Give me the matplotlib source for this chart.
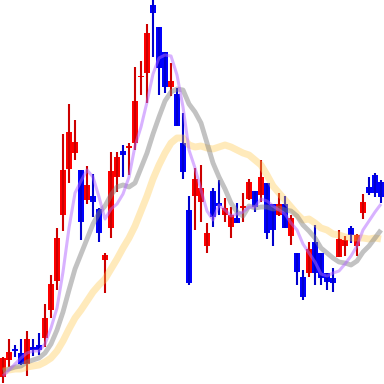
import numpy as np
import matplotlib
matplotlib.use('Agg')
import matplotlib.pyplot as plt

# candle values (arbitrary price units)
opens  = [7, 24, 35, 31, 20, 37, 39, 46, 74, 103, 169, 215, 231, 214, 184, 188, 175, 124, 156, 207,
          233, 236, 241, 307, 311, 379, 357, 332, 297, 290, 241, 174, 188, 182, 138, 193, 181, 169, 157, 166,
          176, 185, 193, 189, 201, 180, 169, 180, 148, 131, 107, 111, 142, 131, 111, 106, 127, 138, 156, 138,
          171, 197, 209, 202]
highs  = [27, 45, 39, 45, 53, 45, 51, 80, 109, 156, 250, 280, 264, 214, 218, 210, 176, 131, 232, 232,
          239, 241, 317, 323, 360, 384, 357, 332, 321, 296, 271, 188, 216, 219, 161, 196, 204, 186, 177, 181,
          191, 205, 193, 224, 201, 180, 191, 188, 169, 131, 114, 142, 159, 131, 111, 116, 154, 148, 158, 150,
          190, 207, 211, 204]
lows   = [1, 17, 27, 19, 8, 28, 29, 37, 66, 94, 153, 201, 224, 144, 180, 167, 142, 91, 146, 192,
          207, 209, 234, 289, 281, 327, 289, 291, 288, 258, 205, 99, 154, 162, 131, 157, 169, 162, 146, 161,
          162, 184, 172, 182, 145, 138, 168, 156, 139, 99, 84, 107, 99, 99, 94, 92, 127, 128, 141, 128,
          165, 189, 187, 181]
closes = [26, 32, 33, 20, 45, 34, 34, 66, 100, 146, 214, 252, 242, 162, 199, 182, 151, 129, 213, 227,
          229, 238, 283, 308, 351, 371, 316, 297, 303, 258, 212, 101, 205, 196, 151, 167, 178, 176, 169, 161,
          178, 202, 177, 207, 151, 154, 180, 156, 166, 112, 87, 135, 111, 106, 102, 101, 145, 144, 149, 149,
          182, 191, 191, 187]

# moving average lines as they appear in the picture
ma5  = [8, 14, 20, 26, 31, 33, 33, 40, 56, 76, 112, 156, 191, 203, 214, 207, 187, 165, 175, 180,
        190, 207, 238, 257, 282, 310, 326, 329, 328, 309, 277, 234, 216, 194, 173, 164, 179, 174, 168, 170,
        172, 177, 177, 185, 183, 178, 174, 170, 161, 154, 140, 131, 122, 110, 108, 111, 113, 120, 128, 138,
        154, 163, 172, 180]
ma10 = [13, 15, 17, 18, 22, 24, 26, 31, 40, 54, 72, 94, 115, 130, 145, 160, 171, 178, 189, 197,
        199, 197, 201, 216, 231, 250, 267, 283, 292, 295, 294, 280, 272, 261, 241, 221, 207, 195, 181, 172,
        168, 178, 176, 177, 177, 175, 176, 174, 173, 168, 159, 153, 146, 136, 131, 126, 122, 121, 119, 123,
        132, 138, 146, 154]
ma20 = [13, 14, 15, 15, 17, 18, 19, 22, 26, 33, 43, 55, 66, 74, 83, 92, 99, 105, 115, 125,
        136, 146, 158, 173, 188, 205, 219, 231, 241, 246, 246, 239, 237, 238, 236, 235, 237, 239, 237, 234,
        231, 229, 224, 219, 209, 198, 191, 184, 177, 170, 164, 165, 161, 156, 154, 150, 149, 147, 146, 146,
        146, 145, 146, 145]

x = np.arange(len(opens))
o = np.array(opens)
c = np.array(closes)
up = c >= o

body_colors = np.where(up, '#ff0000', '#0000ff')
wick_colors = np.where(up, '#cc0000', '#0000cc')

fig = plt.figure(figsize=(3.84, 3.84), dpi=100)
ax = fig.add_axes([0, 0, 1, 1])

ax.vlines(x, lows, highs, colors=wick_colors, linewidth=1.5)
bottoms = np.minimum(o, c)
heights = np.maximum(np.abs(c - o), 1.5)
ax.bar(x, heights, bottom=bottoms, width=0.9, color=body_colors, linewidth=0)

ax.plot(x, ma20, color='#ffc94d', linewidth=5, alpha=0.38, solid_capstyle='butt')
ax.plot(x, ma10, color='#808080', linewidth=3.5, alpha=0.48, solid_capstyle='butt')
ax.plot(x, ma5, color='#b266ff', linewidth=2.2, alpha=0.5, solid_capstyle='butt')

ax.set_xlim(-0.5, len(opens) - 0.5)
ax.set_ylim(0, 384)
ax.axis('off')

fig.savefig('out.png', dpi=100)
